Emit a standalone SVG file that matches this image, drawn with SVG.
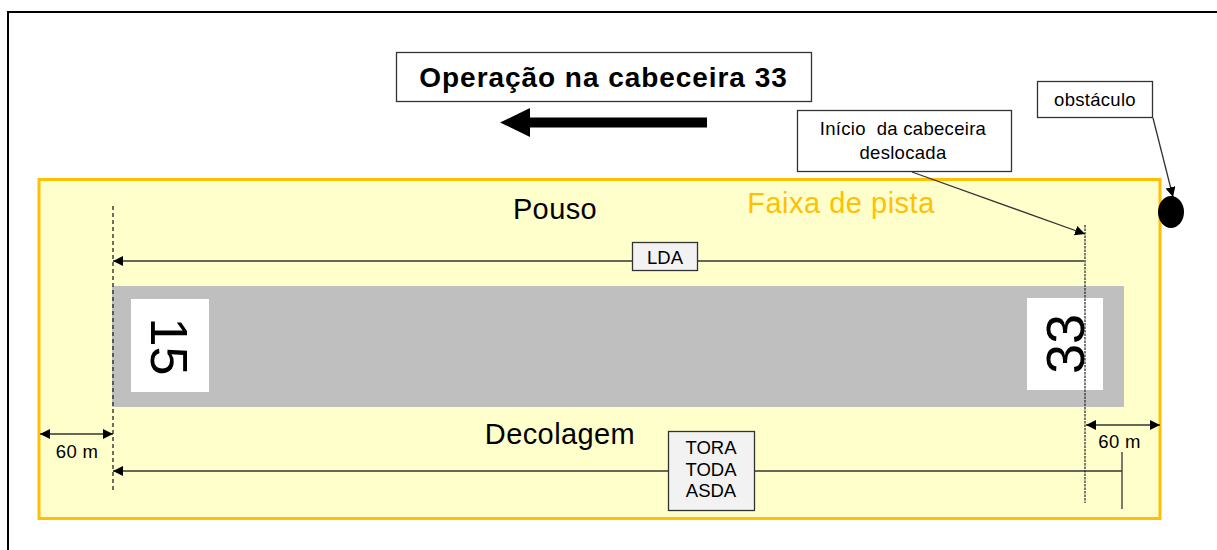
<svg xmlns="http://www.w3.org/2000/svg" width="1217" height="550" viewBox="0 0 1217 550">
<style>
text{font-family:"Liberation Sans",Arial,sans-serif;fill:#000;text-anchor:middle}
.box{fill:#fff;stroke:#333;stroke-width:1.3}
.gbox{fill:#f2f2f2;stroke:#333;stroke-width:1.3}
.ln{stroke:#333;stroke-width:1.3;fill:none}
.dash{stroke:#222;stroke-width:1.3;stroke-dasharray:4 3;fill:none}
.dense{stroke:#333;stroke-width:1.3;stroke-dasharray:2.5 1;fill:none}
.small{font-size:18.500px;letter-spacing:.3px}
.mid{font-size:18.500px}
.big{font-size:29px;letter-spacing:.4px}
.num{font-size:52px}
</style>
<defs>
<marker id="ah" viewBox="0 0 10 10" refX="10" refY="5" markerWidth="10" markerHeight="10" markerUnits="userSpaceOnUse" orient="auto-start-reverse"><path d="M0 0L10 5L0 10Z" fill="#000"/></marker>
</defs>
<rect width="1217" height="550" fill="#fff"/>
<path id="frame" d="M8 550V12H1217" fill="none" stroke="#000" stroke-width="2"/>
<g id="strip"><rect x="39" y="179.500" width="1121" height="339" fill="#ffffcc" stroke="#ffc000" stroke-width="3"/></g>
<g id="runway"><rect x="112" y="286" width="1012" height="121" rx="1" fill="#bfbfbf"/></g>
<g id="threshold-15"><rect x="131" y="299" width="78" height="93" fill="#fff"/><text class="num" transform="translate(151,346.500) rotate(90)">15</text></g>
<g id="threshold-33"><rect x="1027" y="298" width="76" height="92" fill="#fff"/><text class="num" style="font-size:54px" transform="translate(1084,344) rotate(-90)">33</text></g>
<g id="connectors">
<path class="dash" d="M113 206V491"/>
<path class="dense" d="M1085 225V503"/>
<path class="ln" d="M1084 261H113" marker-end="url(#ah)"/>
<path class="ln" d="M1122 471H113" marker-end="url(#ah)"/>
<path class="ln" d="M1122 452V509"/>
<path class="ln" d="M40 434H113" marker-start="url(#ah)" marker-end="url(#ah)"/>
<path class="ln" d="M1086 425H1160" marker-start="url(#ah)" marker-end="url(#ah)"/>
<path class="ln" d="M912 172L1085 234" marker-end="url(#ah)"/>
<path class="ln" d="M1153 118L1173 197" marker-end="url(#ah)"/>
<path d="M707 117.500H530V108L500 122.500L530 137V127.500H707Z" fill="#000"/>
</g>
<g id="title"><rect class="box" x="396.500" y="52.500" width="415" height="49"/><text x="603.500" y="87" font-weight="bold" style="font-size:28px;letter-spacing:.95px">Operação na cabeceira 33</text></g>
<g id="obstacle-label"><rect class="box" x="1037.500" y="81.500" width="115" height="36"/><text class="small" x="1095" y="106">obstáculo</text></g>
<g id="obstacle"><ellipse cx="1171" cy="212" rx="13" ry="16" fill="#000"/></g>
<g id="displaced-label"><rect class="box" x="797.500" y="110.500" width="214" height="61"/><text class="small" x="903" y="135" xml:space="preserve">Início  da cabeceira</text><text class="small" x="903" y="159">deslocada</text></g>
<g id="labels">
<text class="big" x="555" y="219">Pouso</text>
<text class="big" x="841" y="213" style="fill:#ffc000;letter-spacing:.5px">Faixa de pista</text>
<text class="big" x="560" y="444">Decolagem</text>
<text class="small" x="77" y="458">60 m</text>
<text class="small" x="1119.500" y="448">60 m</text>
</g>
<g id="lda"><rect class="gbox" x="632.500" y="242.500" width="65" height="28"/><text class="mid" x="665" y="264">LDA</text></g>
<g id="tora"><rect class="gbox" x="668.500" y="431.500" width="86" height="79"/><text class="mid" x="711" y="454">TORA</text><text class="mid" x="711" y="476">TODA</text><text class="mid" x="711" y="497">ASDA</text></g>
</svg>
